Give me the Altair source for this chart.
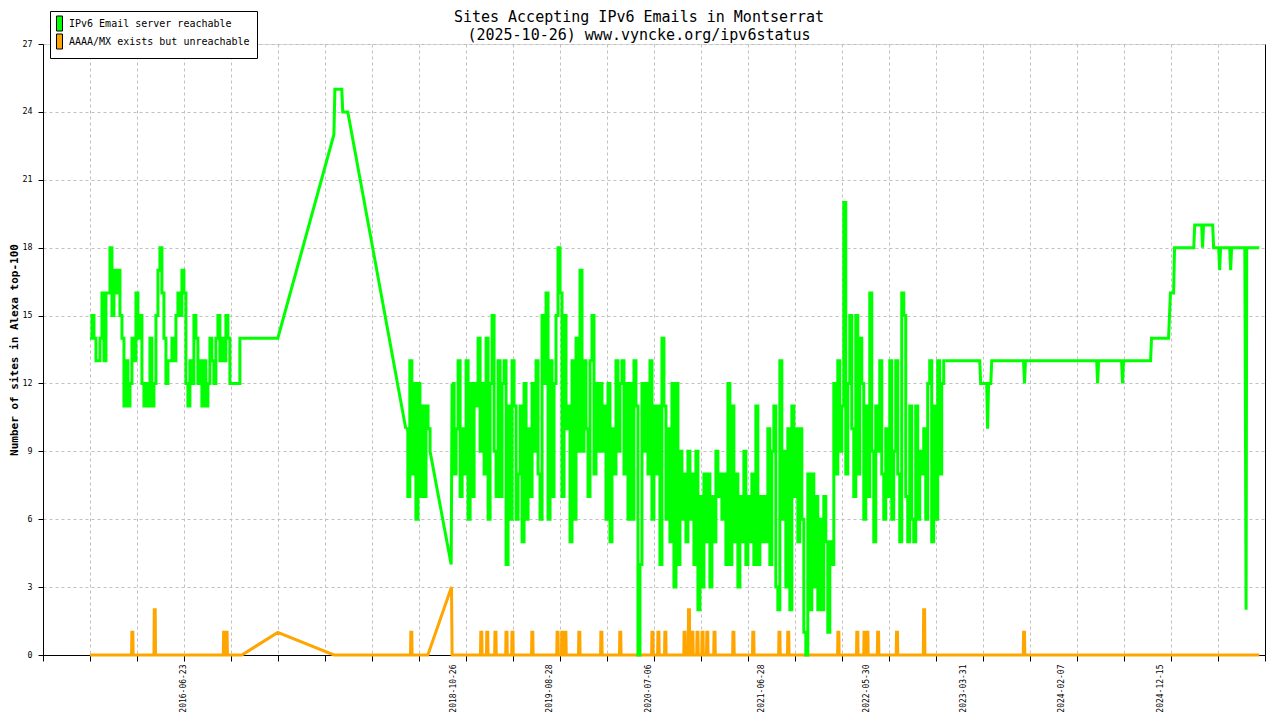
import altair as alt
import pandas as pd

GREEN_NAME = "IPv6 Email server reachable"
ORANGE_NAME = "AAAA/MX exists but unreachable"
GREEN = "#00ff00"
ORANGE = "#ffa500"
FONT = "DejaVu Sans Mono"

TITLE_LINES = ["Sites Accepting IPv6 Emails in Montserrat",
               "(2025-10-26) www.vyncke.org/ipv6status"]
Y_TITLE = "Number of sites in Alexa top-100"

# x-axis labelled dates and axis range
label_dates = ["2016-06-23", "2018-10-26", "2019-08-28", "2020-07-06", "2021-06-28",
               "2022-05-30", "2023-03-31", "2024-02-07", "2024-12-15"]
x_start = "2015-04-03"
x_end = "2025-11-13"
y_ticks = [0, 3, 6, 9, 12, 15, 18, 21, 24, 27]

# ---- green series: reachable ----
seg_a_start, seg_a_end = "2015-08-30", "2016-12-24"
seg_a_values = [14, 15, 14, 13, 13, 14, 16, 13, 16, 16,
                18, 15, 17, 16, 17, 15, 14, 11, 13, 11,
                12, 14, 13, 16, 14, 15, 12, 11, 12, 11,
                14, 11, 12, 15, 17, 18, 16, 14, 12, 13,
                13, 14, 13, 15, 16, 15, 17, 16, 12, 11,
                13, 12, 15, 14, 12, 13, 11, 13, 11, 12,
                14, 13, 12, 14, 15, 13, 14, 13, 15, 14,
                12, 12, 12, 12, 12, 14, 14]

knot1_dates = ["2017-04-17", "2017-10-12", "2017-10-15", "2017-11-06", "2017-11-09", "2017-11-25"]
knot1_values = [14, 23, 25, 25, 24, 24]

seg_c_start, seg_c_end = "2018-05-28", "2018-08-13"
seg_c_values = [10, 7, 13, 8, 12, 6, 12, 7, 11, 7, 11, 10, 9]

knot2_dates = ["2018-10-19"]
knot2_values = [4]

seg_b_start, seg_b_end = "2018-10-22", "2023-02-04"
seg_b_values = [12, 8, 10, 13, 7, 10, 8, 13, 6, 12,
                7, 12, 11, 14, 9, 12, 8, 14, 6, 12,
                15, 9, 7, 13, 7, 12, 13, 4, 11, 6,
                13, 11, 6, 8, 11, 5, 12, 6, 10, 7,
                12, 9, 13, 8, 6, 15, 12, 16, 6, 13,
                7, 12, 15, 18, 16, 7, 15, 10, 11, 5,
                13, 6, 14, 9, 17, 9, 13, 10, 7, 13,
                15, 8, 12, 9, 12, 9, 11, 6, 12, 5,
                10, 8, 13, 9, 12, 13, 8, 12, 6, 12,
                6, 13, 11, 0, 4, 12, 9, 12, 8, 13,
                6, 11, 8, 11, 4, 14, 11, 6, 10, 5,
                12, 3, 12, 4, 9, 6, 8, 5, 9, 6,
                8, 4, 9, 2, 7, 3, 8, 5, 8, 3,
                7, 5, 9, 7, 8, 6, 8, 4, 12, 4,
                11, 5, 8, 3, 7, 5, 9, 4, 7, 5,
                8, 4, 11, 4, 7, 5, 7, 5, 10, 4,
                9, 11, 3, 2, 13, 6, 9, 3, 10, 2,
                11, 7, 10, 5, 10, 6, 1, 0, 8, 2,
                8, 3, 7, 2, 6, 2, 7, 5, 1, 5,
                4, 12, 8, 13, 9, 11,
                20, 8, 12, 15, 10, 7, 15, 8, 14, 12,
                6, 11, 7, 16, 9, 5, 11, 9, 13, 8,
                6, 10, 7, 13, 6, 9, 13, 8, 5, 16,
                15, 7, 5, 11, 6, 5, 11, 6, 9, 8,
                10, 6, 12, 13, 5, 11, 6, 13, 8, 12,
                13, 13]

tail_dates = ["2023-05-23", "2023-05-26", "2023-06-14", "2023-06-17", "2023-06-20",
              "2023-06-27", "2023-06-30", "2023-10-09", "2023-10-12", "2023-10-15",
              "2024-05-28", "2024-05-31", "2024-06-03", "2024-08-15", "2024-08-18",
              "2024-08-21", "2024-11-15", "2024-11-18", "2025-01-11", "2025-01-14",
              "2025-01-17", "2025-01-27", "2025-01-30", "2025-04-01", "2025-04-04",
              "2025-04-26", "2025-04-29", "2025-05-02", "2025-05-31", "2025-06-03",
              "2025-06-19", "2025-06-22", "2025-06-25", "2025-07-24", "2025-07-27",
              "2025-07-30", "2025-09-10", "2025-09-12", "2025-09-14", "2025-09-16",
              "2025-10-26"]
tail_values = [13, 12, 12, 10, 12,
               12, 13, 13, 12, 13,
               13, 12, 13, 13, 12,
               13, 13, 14, 14, 15,
               16, 16, 18, 18, 19,
               19, 18, 19, 19, 18,
               18, 17, 18, 18, 17,
               18, 18, 10, 2, 18,
               18]

# ---- orange series: AAAA/MX exists but unreachable ----
orange_knot_dates = ["2015-08-30", "2016-12-24", "2017-04-17", "2017-10-12",
                     "2018-08-06", "2018-10-20", "2018-10-22", "2025-10-26"]
orange_knot_values = [0, 0, 1, 0, 0, 3, 0, 0]

spike_dates = ["2016-01-10", "2016-03-21", "2016-10-27", "2016-11-04", "2018-06-13",
               "2019-01-21", "2019-02-09", "2019-03-07", "2019-04-11", "2019-04-30",
               "2019-07-02", "2019-09-20", "2019-10-05", "2019-10-15", "2019-11-28",
               "2020-02-06", "2020-04-06", "2020-07-17", "2020-08-05", "2020-08-27",
               "2020-10-27", "2020-11-10", "2020-11-21", "2020-12-07", "2020-12-23",
               "2021-01-07", "2021-01-30", "2021-03-31", "2021-06-02", "2021-08-24",
               "2021-09-21", "2022-02-27", "2022-04-28", "2022-05-21", "2022-05-30",
               "2022-07-03", "2022-09-01", "2022-11-26", "2023-10-09"]
spike_heights = [1, 2, 1, 1, 1,
                 1, 1, 1, 1, 1,
                 1, 1, 1, 1, 1,
                 1, 1, 1, 1, 1,
                 1, 2, 1, 1, 1,
                 1, 1, 1, 1, 1,
                 1, 1, 1, 1, 1,
                 1, 1, 2, 1]


def segment(start, end, values, name):
    return pd.DataFrame({"date": pd.date_range(start, end, periods=len(values)),
                         "value": values, "seg": name})


def knots(dates, values, name):
    return pd.DataFrame({"date": pd.to_datetime(dates), "value": values, "seg": name})


# densely sampled runs (drawn as steps, like the daily source data)
green_dense = pd.concat([
    segment(seg_a_start, seg_a_end, seg_a_values, "a"),
    segment(seg_c_start, seg_c_end, seg_c_values, "c"),
    segment(seg_b_start, seg_b_end, seg_b_values, "b"),
])
# sparse stretches between the runs and the calmer tail (drawn straight)
green_links = pd.concat([
    knots([seg_a_end] + knot1_dates + [seg_c_start],
          [seg_a_values[-1]] + knot1_values + [seg_c_values[0]], "l1"),
    knots([seg_c_end] + knot2_dates + [seg_b_start],
          [seg_c_values[-1]] + knot2_values + [seg_b_values[0]], "l2"),
    knots([seg_b_end] + tail_dates, [seg_b_values[-1]] + tail_values, "l3"),
])

day = pd.Timedelta(days=1)
rows = list(zip(pd.to_datetime(orange_knot_dates), orange_knot_values))
for d, h in zip(pd.to_datetime(spike_dates), spike_heights):
    rows += [(d - day, 0), (d, h), (d + 3 * day, h), (d + 4 * day, 0)]
orange = pd.DataFrame(rows, columns=["date", "value"]).sort_values("date").reset_index(drop=True)

legend_data = pd.DataFrame({"series": [GREEN_NAME, ORANGE_NAME], "value": [-1, -1]})


def dt(ts):
    ts = pd.Timestamp(ts)
    return alt.DateTime(year=ts.year, month=ts.month, date=ts.day)


x_scale = alt.Scale(domain=[dt(x_start), dt(x_end)])
y_scale = alt.Scale(domain=[0, 27], nice=False)
grid_vals = [dt(t) for t in pd.date_range(x_start, x_end, periods=27)]
label_vals = [dt(t) for t in label_dates]

color_scale = alt.Scale(domain=[GREEN_NAME, ORANGE_NAME], range=[GREEN, ORANGE])
legend = alt.Legend(
    title=None, orient="none", legendX=7, legendY=-33, direction="vertical",
    symbolType="M-0.6,-1.5H0.6V1.5H-0.6Z", symbolSize=100, symbolStrokeWidth=1,
    symbolStrokeColor="black", symbolOpacity=1, symbolOffset=-3,
    labelFont=FONT, labelFontSize=10, labelColor="black", labelLimit=400,
    labelOffset=4, padding=7, rowPadding=-1, strokeColor="black",
    fillColor="white", cornerRadius=0,
)

grid_kw = dict(gridColor="#c0c0c0", gridDash=[3, 3], gridWidth=1)

orange_layer = alt.Chart(orange).mark_line(strokeWidth=3, color=ORANGE).encode(
    x=alt.X("date:T", scale=x_scale, title=None,
            axis=alt.Axis(orient="bottom", values=label_vals, format="%Y-%m-%d",
                          labelAngle=270, labelFont=FONT, labelFontSize=8,
                          labelColor="black", ticks=False, tickSize=0, domain=False,
                          grid=False, labelPadding=9, labelOverlap=False,
                          labelFlush=False)),
    y=alt.Y("value:Q", scale=y_scale, title=None,
            axis=alt.Axis(orient="right", labels=False, ticks=False, grid=False,
                          domainColor="black", domainWidth=1)),
)

green_dense_layer = alt.Chart(green_dense).mark_line(
    strokeWidth=3, color=GREEN, interpolate="step-after"
).encode(
    x=alt.X("date:T", scale=x_scale, title=None,
            axis=alt.Axis(orient="bottom", values=grid_vals, labels=False,
                          ticks=True, tickSize=6, tickColor="black",
                          domainColor="black", domainWidth=1, grid=True, **grid_kw)),
    y=alt.Y("value:Q", scale=y_scale, title=Y_TITLE,
            axis=alt.Axis(orient="left", values=y_ticks, labelFont=FONT,
                          labelFontSize=8.3, labelColor="black", labelPadding=6,
                          tickSize=5, tickColor="black", domainColor="black",
                          domainWidth=1, titleFont=FONT, titleFontSize=11,
                          titleFontWeight="bold", titleColor="black",
                          titlePadding=3, grid=True, **grid_kw)),
    detail="seg:N",
)

green_link_layer = alt.Chart(green_links).mark_line(strokeWidth=3, color=GREEN).encode(
    x=alt.X("date:T", scale=x_scale, axis=None),
    y=alt.Y("value:Q", scale=y_scale, axis=None),
    detail="seg:N",
)

# empty filled-point layer, only to carry the legend with filled swatches
legend_layer = alt.Chart(legend_data).mark_point(filled=True).encode(
    y=alt.Y("value:Q", scale=y_scale, axis=None),
    color=alt.Color("series:N", scale=color_scale, legend=legend),
).transform_filter("datum.value >= 0")

chart = alt.layer(
    orange_layer, green_dense_layer, green_link_layer, legend_layer
).resolve_axis(
    x="independent", y="independent"
).properties(
    width=1222,
    height=611,
    autosize=alt.AutoSizeParams(type="none"),
    padding={"left": 35, "top": 36, "right": 7, "bottom": 57},
    title=alt.TitleParams(text=TITLE_LINES, font=FONT, fontSize=15,
                          fontWeight="normal", lineHeight=18, anchor="middle",
                          dx=-15, offset=-32, color="black"),
).configure_view(strokeWidth=0).configure(background="white")

chart.save("out.html", embed_options={"renderer": "svg", "actions": False})
